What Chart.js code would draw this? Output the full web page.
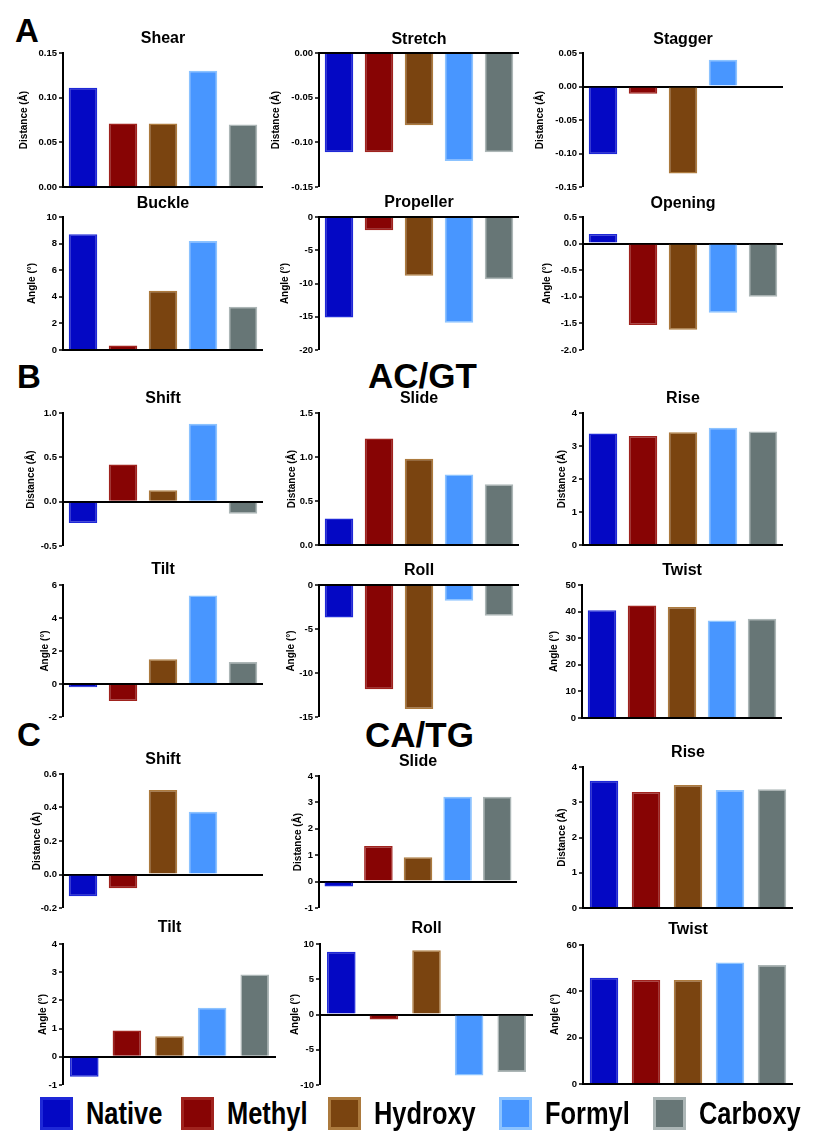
<!DOCTYPE html>
<html>
<head>
<meta charset="utf-8">
<script src="https://cdn.jsdelivr.net/npm/chart.js@4.4.1/dist/chart.umd.min.js"></script>
<style>
  body { margin: 0; background: #fff; }
  #page { position: relative; width: 814px; height: 1145px; overflow: hidden; font-family: 'Liberation Sans', Arial, sans-serif; }
  .panel { position: absolute; }
  .big { position: absolute; font-weight: bold; line-height: 1; color: #000; white-space: nowrap; }
  .sw { position: absolute; box-sizing: border-box; width: 33px; height: 33px; border: 3px solid; }
  .lt { position: absolute; font-family: 'Liberation Sans', Arial, sans-serif; font-weight: bold; font-size: 31px; line-height: 33px; color: #000; white-space: nowrap; transform: scaleX(0.82); transform-origin: 0 50%; }
</style>
</head>
<body>
<div id="page">
  <div class="big" style="left:15px;top:14px;font-size:33px;">A</div>
  <div class="big" style="left:17px;top:360px;font-size:33px;">B</div>
  <div class="big" style="left:17px;top:718px;font-size:33px;">C</div>
  <div class="big" style="left:368px;top:358px;font-size:35px;">AC/GT</div>
  <div class="big" style="left:365px;top:717px;font-size:35px;">CA/TG</div>
</div>
<script>
// ---- data ----
const categories = ['Native', 'Methyl', 'Hydroxy', 'Formyl', 'Carboxy'];

// A: base-pair parameters
const shear     = [0.111, 0.071, 0.071, 0.130, 0.070];
const stretch   = [-0.111, -0.111, -0.081, -0.121, -0.111];
const stagger   = [-0.101, -0.011, -0.130, 0.040, 0];
const buckle    = [8.7, 0.33, 4.45, 8.2, 3.25];
const propeller = [-15.1, -2.0, -8.85, -15.9, -9.35];
const opening   = [0.18, -1.53, -1.62, -1.30, -1.00];

// B: AC/GT step parameters
const acgtShift = [-0.24, 0.42, 0.13, 0.88, -0.135];
const acgtSlide = [0.30, 1.21, 0.98, 0.80, 0.69];
const acgtRise  = [3.38, 3.30, 3.42, 3.55, 3.44];
const acgtTilt  = [-0.20, -1.03, 1.50, 5.36, 1.34];
const acgtRoll  = [-3.7, -11.85, -14.1, -1.8, -3.5];
const acgtTwist = [40.5, 42.3, 41.7, 36.7, 37.3];

// C: CA/TG step parameters
const catgShift = [-0.13, -0.082, 0.504, 0.374, 0];
const catgSlide = [-0.19, 1.35, 0.92, 3.21, 3.21];
const catgRise  = [3.61, 3.29, 3.49, 3.35, 3.37];
const catgTilt  = [-0.71, 0.93, 0.73, 1.74, 2.92];
const catgRoll  = [8.9, -0.7, 9.1, -8.67, -8.14];
const catgTwist = [45.9, 44.9, 44.9, 52.4, 51.4];

// tick labels
const ticksShear     = ['0.00', '0.05', '0.10', '0.15'];
const ticksStretch   = ['-0.15', '-0.10', '-0.05', '0.00'];
const ticksStagger   = ['-0.15', '-0.10', '-0.05', '0.00', '0.05'];
const ticksBuckle    = ['0', '2', '4', '6', '8', '10'];
const ticksPropeller = ['-20', '-15', '-10', '-5', '0'];
const ticksOpening   = ['-2.0', '-1.5', '-1.0', '-0.5', '0.0', '0.5'];
const ticksAcgtShift = ['-0.5', '0.0', '0.5', '1.0'];
const ticksAcgtSlide = ['0.0', '0.5', '1.0', '1.5'];
const ticksRise      = ['0', '1', '2', '3', '4'];
const ticksAcgtTilt  = ['-2', '0', '2', '4', '6'];
const ticksAcgtRoll  = ['-15', '-10', '-5', '0'];
const ticksAcgtTwist = ['0', '10', '20', '30', '40', '50'];
const ticksCatgShift = ['-0.2', '0.0', '0.2', '0.4', '0.6'];
const ticksCatgSlide = ['-1', '0', '1', '2', '3', '4'];
const ticksCatgTilt  = ['-1', '0', '1', '2', '3', '4'];
const ticksCatgRoll  = ['-10', '-5', '0', '5', '10'];
const ticksCatgTwist = ['0', '20', '40', '60'];

const DIST = 'Distance (\u00c5)';
const ANGLE = 'Angle (\u00b0)';

// ---- styles / layout ----
const fills   = ['rgb(4,8,196)', 'rgb(135,4,4)', 'rgb(122,68,16)', 'rgb(72,150,255)', 'rgb(103,118,118)'];
const borders = ['rgb(30,40,215)', 'rgb(160,35,30)', 'rgb(172,122,62)', 'rgb(140,195,255)', 'rgb(172,182,182)'];

// plotLeft, plotTop, plotBottom, category spacing, title centre y, y-title distance from axis
const panels = [
  { title: 'Shear',     values: shear,     ticks: ticksShear,     unit: DIST,  box: [63, 53, 187, 40, 38, 39] },
  { title: 'Stretch',   values: stretch,   ticks: ticksStretch,   unit: DIST,  box: [319, 53, 187, 40, 39, 43] },
  { title: 'Stagger',   values: stagger,   ticks: ticksStagger,   unit: DIST,  box: [583, 53, 187, 40, 39, 43] },
  { title: 'Buckle',    values: buckle,    ticks: ticksBuckle,    unit: ANGLE, box: [63, 217, 350, 40, 203, 31] },
  { title: 'Propeller', values: propeller, ticks: ticksPropeller, unit: ANGLE, box: [319, 217, 350, 40, 202, 34] },
  { title: 'Opening',   values: opening,   ticks: ticksOpening,   unit: ANGLE, box: [583, 217, 350, 40, 203, 36] },

  { title: 'Shift', values: acgtShift, ticks: ticksAcgtShift, unit: DIST,  box: [63, 413, 546, 40, 398, 32] },
  { title: 'Slide', values: acgtSlide, ticks: ticksAcgtSlide, unit: DIST,  box: [319, 413, 545, 40, 398, 27] },
  { title: 'Rise',  values: acgtRise,  ticks: ticksRise,      unit: DIST,  box: [583, 413, 545, 40, 398, 21] },
  { title: 'Tilt',  values: acgtTilt,  ticks: ticksAcgtTilt,  unit: ANGLE, box: [63, 585, 717, 40, 569, 18] },
  { title: 'Roll',  values: acgtRoll,  ticks: ticksAcgtRoll,  unit: ANGLE, box: [319, 585, 717, 40, 570, 28] },
  { title: 'Twist', values: acgtTwist, ticks: ticksAcgtTwist, unit: ANGLE, box: [582, 585, 718, 40, 570, 28] },

  { title: 'Shift', values: catgShift, ticks: ticksCatgShift, unit: DIST,  box: [63, 774, 908, 40, 759, 26] },
  { title: 'Slide', values: catgSlide, ticks: ticksCatgSlide, unit: DIST,  box: [319, 776, 908, 39.5, 761, 21] },
  { title: 'Rise',  values: catgRise,  ticks: ticksRise,      unit: DIST,  box: [583, 767, 908, 42, 752, 21] },
  { title: 'Tilt',  values: catgTilt,  ticks: ticksCatgTilt,  unit: ANGLE, box: [63, 944, 1085, 42.5, 927, 20] },
  { title: 'Roll',  values: catgRoll,  ticks: ticksCatgRoll,  unit: ANGLE, box: [320, 944, 1085, 42.5, 928, 25] },
  { title: 'Twist', values: catgTwist, ticks: ticksCatgTwist, unit: ANGLE, box: [583, 945, 1084, 42, 929, 28] }
];

const AXIS_W = 52;
const TITLE_LH = 19.2;   // 16px * 1.2
const PAD_BOTTOM = 8;
const page = document.getElementById('page');

const isZero = c => c.tick && Math.abs(c.tick.value) < 1e-9;

panels.forEach(p => {
  const [left, top, bottom, spacing, titleY, yTitleDist] = p.box;
  const plotW = Math.round(spacing * 5);
  const cTop = Math.round(titleY - TITLE_LH / 2) + 1;
  const cLeft = left - AXIS_W;
  const w = AXIS_W + plotW;
  const h = bottom - cTop + PAD_BOTTOM;

  const canvas = document.createElement('canvas');
  canvas.className = 'panel';
  canvas.width = w;
  canvas.height = h;
  canvas.style.left = cLeft + 'px';
  canvas.style.top = cTop + 'px';
  canvas.style.width = w + 'px';
  canvas.style.height = h + 'px';
  page.appendChild(canvas);

  const tickVals = p.ticks.map(Number);

  new Chart(canvas.getContext('2d'), {
    type: 'bar',
    data: {
      labels: categories,
      datasets: [{
        label: p.title,
        data: p.values,
        backgroundColor: fills,
        borderColor: borders,
        borderWidth: 1.5,
        barPercentage: 28.5 / spacing,
        categoryPercentage: 1
      }]
    },
    options: {
      responsive: false,
      animation: false,
      events: [],
      layout: { padding: { left: 0, right: 0, top: 0, bottom: PAD_BOTTOM } },
      plugins: {
        legend: { display: false },
        tooltip: { enabled: false },
        title: {
          display: true,
          text: p.title,
          fullSize: false,
          color: '#000',
          font: { family: "'Liberation Sans', Arial, sans-serif", size: 16, weight: 'bold', lineHeight: 1.2 },
          padding: { top: 0, bottom: top - cTop - TITLE_LH }
        }
      },
      scales: {
        x: { display: false },
        y: {
          min: tickVals[0],
          max: tickVals[tickVals.length - 1],
          z: 1,
          afterFit: s => { s.width = AXIS_W; },
          afterBuildTicks: s => { s.ticks = tickVals.map(v => ({ value: v })); },
          border: { display: true, color: '#000', width: 2 },
          grid: {
            drawTicks: true,
            tickLength: 4,
            tickWidth: 1.5,
            tickColor: '#000',
            color: c => isZero(c) ? '#000' : 'rgba(0,0,0,0)',
            lineWidth: c => isZero(c) ? 2 : 0
          },
          ticks: {
            padding: 2,
            color: '#000',
            font: { family: "'Liberation Sans', Arial, sans-serif", size: 9.5, weight: 'bold' },
            callback: (v, i) => p.ticks[i]
          },
          title: {
            display: true,
            text: p.unit,
            color: '#000',
            font: { family: "'Liberation Sans', Arial, sans-serif", size: 10, weight: 'bold', lineHeight: 1.2 },
            padding: { top: AXIS_W - yTitleDist - 6, bottom: 0 }
          }
        }
      }
    }
  });
});

// legend
const legendX = [40, 181, 328, 499, 653];
const legendTop = 1097;
categories.forEach((name, i) => {
  const sw = document.createElement('div');
  sw.className = 'sw';
  sw.style.left = legendX[i] + 'px';
  sw.style.top = legendTop + 'px';
  sw.style.background = fills[i];
  sw.style.borderColor = borders[i];
  page.appendChild(sw);
  const t = document.createElement('div');
  t.className = 'lt';
  t.textContent = name;
  t.style.left = (legendX[i] + 46) + 'px';
  t.style.top = legendTop + 'px';
  page.appendChild(t);
});
</script>
</body>
</html>
